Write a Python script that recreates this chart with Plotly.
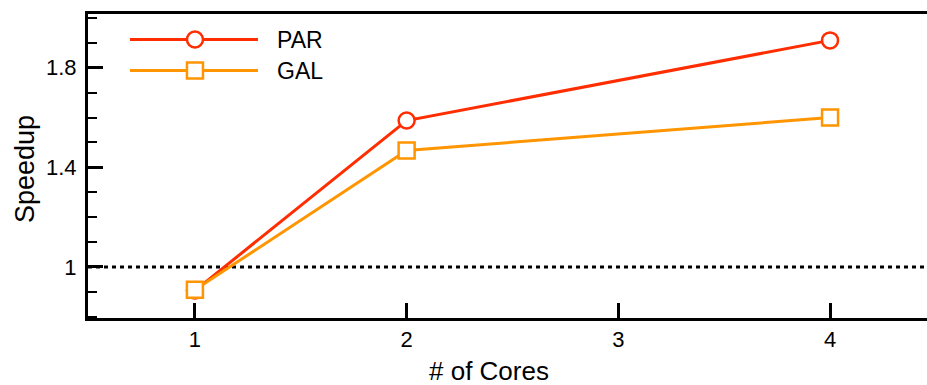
import plotly.graph_objects as go

# Speedup measurements per core count
cores = [1, 2, 4]
par_speedup = [0.905, 1.588, 1.91]
gal_speedup = [0.908, 1.468, 1.60]

x_ticks = [1, 2, 3, 4]
y_ticks = [1, 1.4, 1.8]
y_tick_text = ["1", "1.4", "1.8"]

series = [
    ("PAR", par_speedup, "#FF2D00", "circle"),
    ("GAL", gal_speedup, "#FF9500", "square"),
]

FONT = "Liberation Sans, Arial, Helvetica, sans-serif"

fig = go.Figure()

for name, vals, color, symbol in series:
    fig.add_trace(go.Scatter(
        x=cores, y=vals, name=name, mode="lines+markers",
        line=dict(color=color, width=3),
        marker=dict(symbol=symbol, size=16, color="white",
                    line=dict(color=color, width=2.5)),
        showlegend=False, cliponaxis=False,
    ))

# Hand-built legend on an overlay axis in paper units
legend_y = [0.916, 0.814]
for (name, vals, color, symbol), ly in zip(series, legend_y):
    fig.add_trace(go.Scatter(
        x=[0.05, 0.2026], y=[ly, ly], xaxis="x2", yaxis="y2",
        mode="lines", line=dict(color=color, width=3),
        showlegend=False, hoverinfo="skip",
    ))
    fig.add_trace(go.Scatter(
        x=[0.1275], y=[ly], xaxis="x2", yaxis="y2", mode="markers",
        marker=dict(symbol=symbol, size=16, color="white", opacity=1,
                    line=dict(color=color, width=2.5)),
        showlegend=False, hoverinfo="skip",
    ))
    fig.add_annotation(
        x=0.2229, y=ly, xref="x2", yref="y2", text=name,
        showarrow=False, xanchor="left", yanchor="middle",
        font=dict(family=FONT, size=23, color="black"),
    )

# Baseline at speedup 1
fig.add_shape(type="line", xref="paper", yref="y", x0=0, x1=1, y0=1, y1=1,
              line=dict(color="black", width=3, dash="4px,4px"), layer="below")

fig.update_layout(
    width=927, height=385,
    margin=dict(l=88, r=0, t=14, b=67),
    plot_bgcolor="white", paper_bgcolor="white",
    font=dict(family=FONT, size=22, color="black"),
    xaxis=dict(
        range=[0.495, 4.458], tickvals=x_ticks, ticks="inside",
        ticklen=15, tickwidth=3, tickcolor="black",
        showline=True, linewidth=3, linecolor="black", mirror=True,
        showgrid=False, zeroline=False,
        tickfont=dict(size=22),
    ),
    yaxis=dict(
        range=[0.795, 2.016], tickvals=y_ticks, ticktext=y_tick_text,
        ticks="inside", ticklen=15, tickwidth=3, tickcolor="black",
        showline=True, linewidth=3, linecolor="black", mirror=False,
        showgrid=False, zeroline=False, ticklabelstandoff=4,
        tickfont=dict(size=22),
        minor=dict(ticks="inside", ticklen=9, tickwidth=2, tickcolor="black",
                   dtick=0.1, tick0=0.8, showgrid=False),
    ),
    xaxis2=dict(overlaying="x", range=[0, 1], visible=False, fixedrange=True),
    yaxis2=dict(overlaying="y", range=[0, 1], visible=False, fixedrange=True),
    showlegend=False,
)

fig.add_annotation(
    text="# of Cores", xref="paper", yref="paper", x=0.4785, y=0,
    xanchor="center", yanchor="top", yshift=-36, showarrow=False,
    font=dict(family=FONT, size=26, color="black"),
)
fig.add_annotation(
    text="Speedup", xref="paper", yref="paper", x=0, y=0.49,
    xanchor="center", yanchor="middle", xshift=-63, textangle=-90,
    showarrow=False, font=dict(family=FONT, size=27, color="black"),
)

fig.write_html("out.html")
